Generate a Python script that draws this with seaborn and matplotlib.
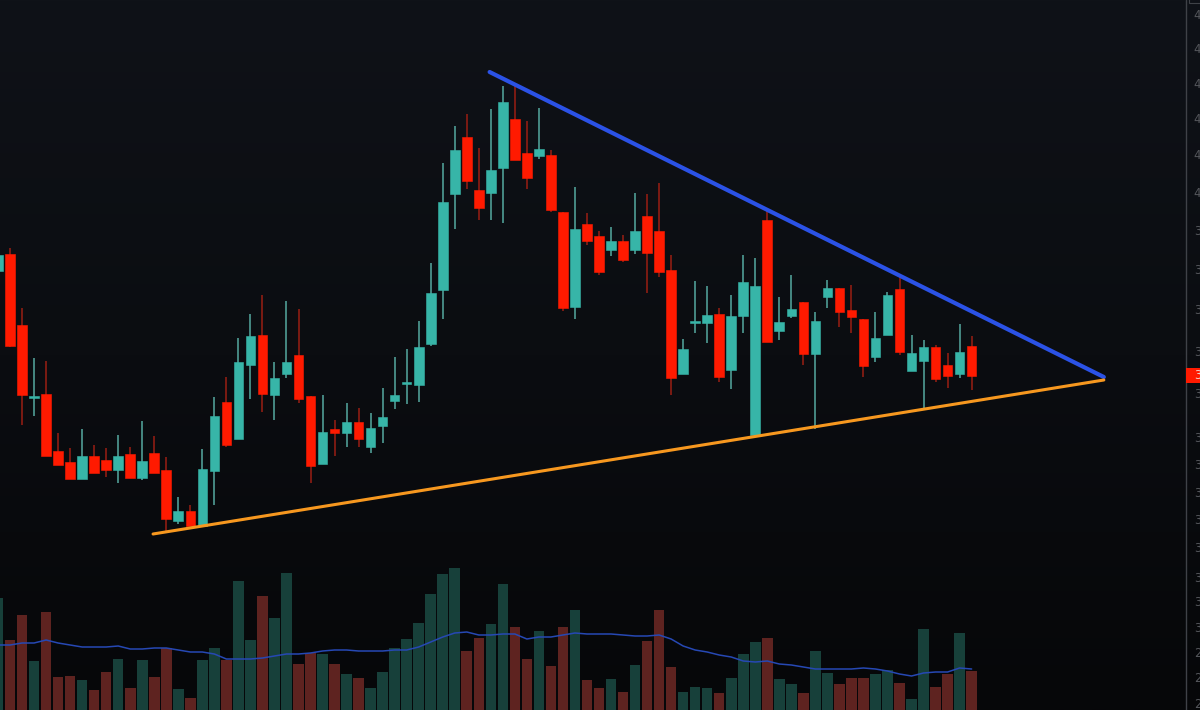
"""Symmetrical triangle on a dark candlestick chart with volume pane."""

import matplotlib

matplotlib.use("Agg")
import matplotlib.pyplot as plt
import numpy as np
import pandas as pd
import seaborn as sns
from matplotlib.colors import LinearSegmentedColormap
from matplotlib.patches import Rectangle

BODY_TOP = [255, 254, 325, 396, 394, 451, 462, 456, 456, 460, 456, 454, 461, 453, 470, 511, 511,
            469, 416, 402, 362, 336, 335, 378, 362, 355, 396, 432, 429, 422, 422, 428, 417, 395,
            382, 347, 293, 202, 150, 137, 190, 170, 102, 119, 153, 149, 155, 212, 229, 224, 236,
            241, 241, 231, 216, 231, 270, 349, 321, 315, 314, 316, 282, 286, 220, 322, 309, 302,
            321, 288, 288, 310, 319, 338, 295, 289, 353, 347, 347, 365, 352, 346]
BODY_BOTTOM = [271, 346, 395, 397.5, 456, 465, 479, 479, 473, 470, 470, 478, 478, 473, 519, 521, 526,
               526, 471, 445, 439, 365, 394, 395, 374, 399, 466, 464, 433, 433, 439, 447, 426, 401,
               383.5, 385, 344, 290, 194, 181, 208, 193, 168, 160, 178, 156, 210, 308, 307, 241, 272,
               250, 260, 250, 253, 272, 378, 374, 323, 323, 377, 370, 316, 435, 342, 331, 316, 354,
               354, 297, 312, 317, 366, 357, 335, 352, 371, 361, 379, 376, 374, 376]
WICK_HIGH = [255, 248, 308, 358, 361, 433, 448, 429, 445, 448, 435, 447, 421, 436, 457, 497, 505,
             449, 397, 377, 338, 314, 295, 362, 301, 309, 396, 395, 420, 403, 408, 413, 388, 357,
             349, 321, 263, 163, 126, 114, 148, 109, 86, 85, 121, 108, 150, 212, 187, 213, 231,
             227, 235, 193, 194, 183, 255, 339, 281, 286, 308, 295, 255, 258, 208, 297, 275, 302,
             312, 280, 288, 285, 319, 312, 292, 277, 335, 340, 345, 353, 324, 336]
WICK_LOW = [271, 347, 425, 416, 456, 465, 479, 479, 473, 477, 483, 478, 480, 473, 532, 524, 526,
            526, 505, 447, 439, 399, 412, 420, 378, 403, 483, 464, 456, 447, 447, 453, 443, 409,
            404, 402, 346, 319, 229, 189, 220, 220, 223, 160, 189, 159, 212, 311, 319, 245, 275,
            256, 262, 254, 293, 277, 395, 374, 333, 343, 382, 389, 333, 437, 342, 340, 318, 365,
            429, 308, 327, 333, 377, 362, 335, 355, 371, 410, 382, 388, 378, 390]
IS_UP = [1, 0, 0, 1, 0, 0, 0, 1, 0, 0, 1, 0, 1, 0, 0, 1, 0,
         1, 1, 0, 1, 1, 0, 1, 1, 0, 0, 1, 0, 1, 0, 1, 1, 1,
         1, 1, 1, 1, 1, 0, 0, 1, 1, 0, 0, 1, 0, 0, 1, 0, 0,
         1, 0, 1, 0, 0, 0, 1, 1, 1, 0, 1, 1, 1, 0, 1, 1, 0,
         1, 1, 0, 0, 0, 1, 1, 0, 1, 1, 0, 0, 1, 0]

# volume pane, same rows
VOLUME_TOP = [598, 640, 615, 661, 612, 677, 676, 680, 690, 672, 659, 688, 660, 677, 648, 689, 698,
              660, 648, 660, 581, 640, 596, 618, 573, 664, 653, 654, 664, 674, 678, 688, 672, 648,
              639, 623, 594, 574, 568, 651, 638, 624, 584, 627, 659, 631, 666, 627, 610, 680, 688,
              679, 692, 665, 641, 610, 667, 692, 687, 688, 693, 678, 654, 642, 638, 679, 684, 693,
              651, 673, 684, 678, 678, 674, 670, 683, 699, 629, 687, 674, 633, 671]
VOLUME_MA = [645, 645, 643, 643, 640, 643, 645, 647, 647, 647, 646, 649, 649, 648, 648, 650, 652,
             652, 654, 659, 659, 659, 658, 656, 654, 654, 653, 651, 650, 650, 651, 651, 651, 650,
             650, 647, 642, 637, 633, 632, 635, 635, 634, 634, 639, 637, 637, 635, 633, 634, 634,
             634, 635, 636, 636, 635, 639, 646, 650, 652, 655, 657, 661, 662, 661, 664, 665, 667,
             669, 669, 669, 669, 668, 669, 671, 674, 676, 673, 672, 672, 668, 669]

# trendlines, (candle index, price row)
UPPER_TREND = ([40.9, 92.0], [72, 377])
LOWER_TREND = ([12.9, 92.0], [534, 380])

# price scale on the right, cut off by the edge of the screenshot
TICK_ROWS = [14, 48, 83, 118, 154, 192, 230, 269, 309, 351, 393, 437, 464, 492, 519, 547, 577, 601,
             627, 652, 677, 703]
TICK_LABELS = ["4"] * 6 + ["3"] * 13 + ["2"] * 3
LAST_PRICE_ROW = 375.5
LAST_PRICE_LABEL = "3"

TEAL = "#37b5a8"
RED = "#ff1a00"
TEAL_WICK = "#4f9d95"
RED_WICK = "#8f1d13"
TEAL_VOL = "#17403a"
RED_VOL = "#5e2320"
MA_BLUE = "#2648b4"
TREND_BLUE = "#2b52e6"
TREND_ORANGE = "#f7981f"
AXIS_GREY = "#3f4248"
LABEL_GREY = "#55575c"

# candle index limits for a 1200 px wide frame
X_LIMITS = (0.166, 100.0)
AXIS_LINE_X = 98.84


def draw_candles(ax, data):
    for up, wick_color, body_color in [(1, TEAL_WICK, TEAL), (0, RED_WICK, RED)]:
        part = data[data["up"] == up]
        ax.vlines(part["i"], part["high"], part["low"], color=wick_color, lw=1.2, zorder=0.5)
        sns.barplot(
            x=part["i"].to_numpy(),
            y=(part["bottom"] - part["top"]).to_numpy(),
            bottom=part["top"].to_numpy(),
            native_scale=True,
            width=0.8,
            gap=0,
            color=body_color,
            saturation=1,
            errorbar=None,
            edgecolor=body_color,
            linewidth=0.4,
            ax=ax,
        )


def draw_volume(ax, data):
    data = data.assign(height=710 - data["vol_top"])
    for up, color in [(1, TEAL_VOL), (0, RED_VOL)]:
        part = data[data["up"] == up]
        sns.barplot(
            x=part["i"].to_numpy(),
            y=part["height"].to_numpy(),
            native_scale=True,
            width=0.88,
            color=color,
            saturation=1,
            errorbar=None,
            edgecolor="none",
            linewidth=0,
            ax=ax,
        )
    sns.lineplot(x=data["i"], y=710 - data["vol_ma"], color=MA_BLUE, lw=1.1, ax=ax)


sns.set_theme(style="dark")

frame = pd.DataFrame(
    {
        "i": np.arange(len(BODY_TOP)),
        "top": BODY_TOP,
        "bottom": BODY_BOTTOM,
        "high": WICK_HIGH,
        "low": WICK_LOW,
        "up": IS_UP,
        "vol_top": VOLUME_TOP,
        "vol_ma": VOLUME_MA,
    }
)

fig = plt.figure(figsize=(12, 7.1), dpi=100)

# volume pane sits behind the prices, with the background gradient
ax_vol = fig.add_axes([0, 0, 1, 1])
shade = LinearSegmentedColormap.from_list("shade", ["#0f1218", "#0b0d11", "#060709"])
ax_vol.imshow(
    np.linspace(0, 1, 256).reshape(-1, 1),
    cmap=shade,
    aspect="auto",
    extent=[0, 1, 0, 1],
    transform=ax_vol.transAxes,
    zorder=0,
)
draw_volume(ax_vol, frame)
ax_vol.set(xlim=X_LIMITS, ylim=(0, 710), xlabel="", ylabel="", xticks=[], yticks=[])
ax_vol.grid(False)
for spine in ax_vol.spines.values():
    spine.set_visible(False)

ax = fig.add_axes([0, 0, 1, 1], facecolor="none")
draw_candles(ax, frame)
ax.plot(*UPPER_TREND, color=TREND_BLUE, lw=3.0, solid_capstyle="round", zorder=3)
ax.plot(*LOWER_TREND, color=TREND_ORANGE, lw=2.2, solid_capstyle="round", zorder=3)

ax.set(xlim=X_LIMITS, ylim=(710, 0), xlabel="", ylabel="", xticks=[])
ax.set_yticks(TICK_ROWS, TICK_LABELS)
ax.yaxis.tick_right()
ax.tick_params(axis="y", length=0, pad=-4.5, labelsize=8.5, labelcolor=LABEL_GREY)
for label in ax.get_yticklabels():
    label.set_horizontalalignment("left")
ax.grid(False)
for spine in ax.spines.values():
    spine.set_visible(False)

ax.axvline(AXIS_LINE_X, color=AXIS_GREY, lw=1.0)
# corner of the screenshot's scale button, top right
ax.add_patch(Rectangle((99.05, -3), 2, 6, facecolor="none", edgecolor=AXIS_GREY, lw=0.8))
ax.add_patch(Rectangle((AXIS_LINE_X, LAST_PRICE_ROW - 7.5), 2, 15, color=RED, lw=0, zorder=4))
ax.text(99.52, LAST_PRICE_ROW, LAST_PRICE_LABEL, color="#f4d0c8", fontsize=8.5,
        va="center", ha="left", zorder=5)

fig.savefig("out.png", dpi=100)
plt.close(fig)
